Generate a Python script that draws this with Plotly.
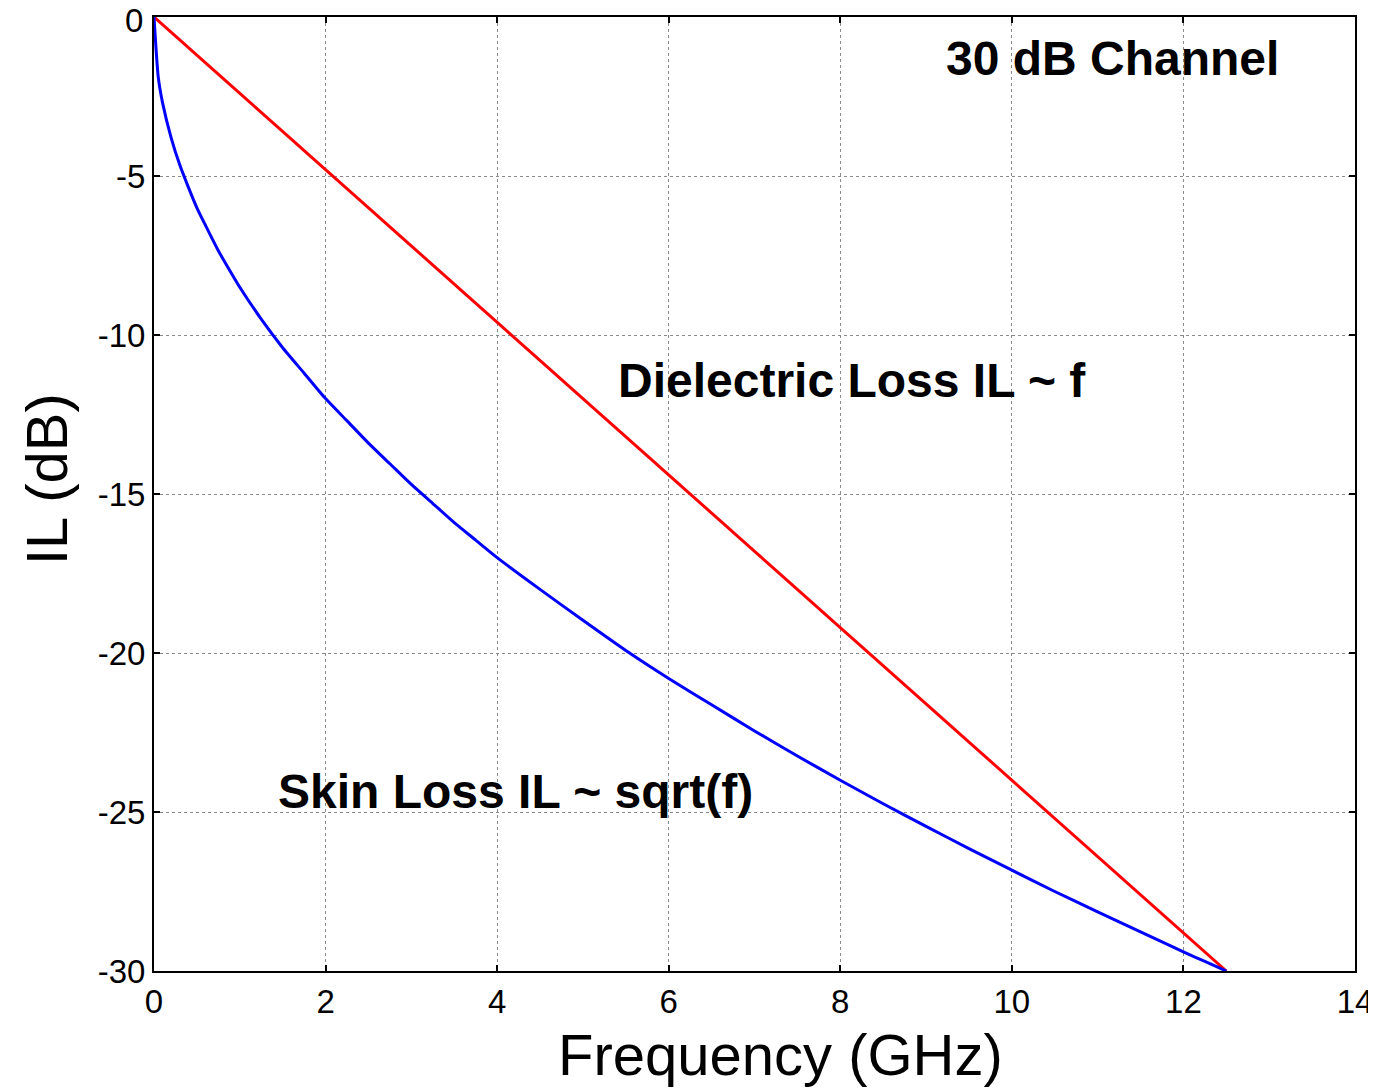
import plotly.graph_objects as go

freq_red = [0, 0.25, 0.5, 0.75, 1.0, 1.5, 2.0, 2.5, 3.0, 3.5, 4.0, 4.5, 5.0, 5.5, 6.0,
            6.5, 7.0, 7.5, 8.0, 8.5, 9.0, 9.5, 10.0, 10.5, 11.0, 11.5, 12.0, 12.25, 12.5]
il_red = [0, -0.6, -1.2, -1.8, -2.4, -3.6, -4.8, -6.0, -7.2, -8.4, -9.6, -10.8, -12.0,
          -13.2, -14.4, -15.6, -16.8, -18.0, -19.2, -20.4, -21.6, -22.8, -24.0, -25.2,
          -26.4, -27.6, -28.8, -29.4, -30.0]

freq_blue = [0, 0.05, 0.1, 0.2, 0.3, 0.4, 0.5, 0.6, 0.75, 0.9, 1.0, 1.25, 1.5, 1.75,
             2.0, 2.25, 2.5, 2.75, 3.0, 3.25, 3.5, 3.75, 4.0, 4.5, 5.0, 5.5, 6.0, 6.5,
             7.0, 7.5, 8.0, 8.5, 9.0, 9.5, 10.0, 10.5, 11.0, 11.5, 12.0, 12.25, 12.5]
il_blue = [0, -1.9, -2.7, -3.8, -4.65, -5.35, -6.0, -6.55, -7.35, -8.05, -8.5, -9.5,
           -10.4, -11.2, -12.0, -12.7, -13.4, -14.05, -14.7, -15.3, -15.9, -16.45,
           -17.0, -18.0, -18.97, -19.92, -20.8, -21.63, -22.45, -23.24, -24.0, -24.74,
           -25.45, -26.15, -26.83, -27.5, -28.14, -28.77, -29.4, -29.7, -30.0]

x_ticks = [0, 2, 4, 6, 8, 10, 12, 14]
y_ticks = [0, -5, -10, -15, -20, -25, -30]
y_tick_labels = ["0", "-5", "-10", "-15", "-20", "-25", "-30"]

FONT = "Liberation Sans, Arial, sans-serif"
TICK_SIZE = 33

fig = go.Figure()
fig.add_trace(go.Scatter(x=freq_red, y=il_red, mode="lines",
                         line=dict(color="#ff0000", width=3), showlegend=False))
fig.add_trace(go.Scatter(x=freq_blue, y=il_blue, mode="lines",
                         line=dict(color="#0000ff", width=3, shape="spline", smoothing=0.6),
                         showlegend=False))

axis_common = dict(showgrid=True, gridcolor="#8a8a8a", griddash="dot", gridwidth=1,
                   showline=True, linecolor="black", linewidth=2, mirror="allticks",
                   ticks="inside", ticklen=6, tickcolor="black", tickwidth=1.5,
                   zeroline=False, ticklabeloverflow="allow",
                   tickfont=dict(family=FONT, size=TICK_SIZE, color="black"))

fig.update_xaxes(range=[0, 14], tickvals=x_ticks, ticktext=[str(v) for v in x_ticks],
                 **axis_common)
# the top label ("0") is drawn separately so that it is not clipped at the page top
fig.update_yaxes(range=[-30, 0], tickvals=y_ticks,
                 ticktext=[""] + y_tick_labels[1:], **axis_common)
fig.add_annotation(xref="paper", yref="y", x=0, y=y_ticks[0], xanchor="right",
                   yanchor="middle", xshift=-9, yshift=-3, text=y_tick_labels[0],
                   showarrow=False, font=dict(family=FONT, size=TICK_SIZE, color="black"))

# axis titles
fig.add_annotation(xref="paper", yref="paper", x=0.5213, y=-0.088, xanchor="center",
                   yanchor="middle", text="Frequency (GHz)", showarrow=False,
                   font=dict(family=FONT, size=58, color="black"))
fig.add_annotation(xref="paper", yref="paper", x=-0.0899, y=0.5157, xanchor="center",
                   yanchor="middle", text="IL (dB)", textangle=-90, showarrow=False,
                   font=dict(family=FONT, size=58, color="black"))

fig.add_annotation(x=13.14, y=-1.29, xanchor="right", yanchor="middle",
                   text="<b>30 dB Channel</b>", showarrow=False,
                   font=dict(family=FONT, size=48, color="black"))
fig.add_annotation(x=5.38, y=-11.42, xanchor="left", yanchor="middle",
                   text="<b>Dielectric Loss IL ~ f</b>", showarrow=False,
                   font=dict(family=FONT, size=48, color="black"))
fig.add_annotation(x=1.42, y=-24.37, xanchor="left", yanchor="middle",
                   text="<b>Skin Loss IL ~ sqrt(f)</b>", showarrow=False,
                   font=dict(family=FONT, size=48, color="black"))

fig.update_layout(width=1368, height=1082, plot_bgcolor="white", paper_bgcolor="white",
                  margin=dict(l=146, r=21, t=9, b=119, autoexpand=False))

fig.write_html("out.html")
